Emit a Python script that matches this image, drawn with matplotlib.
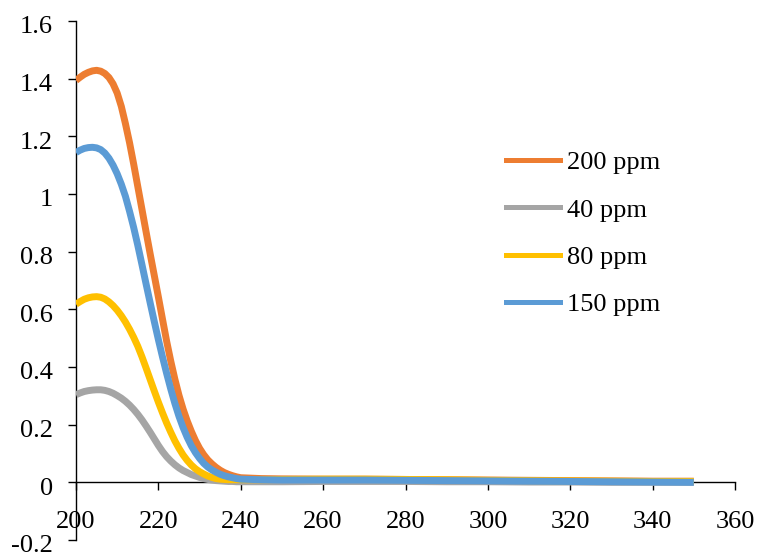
import matplotlib
matplotlib.use("Agg")
import matplotlib.pyplot as plt
from matplotlib.lines import Line2D
from matplotlib.transforms import ScaledTranslation

# Wavelength (nm)
wavelength = [200, 201, 202, 203, 204, 205, 206, 207, 208, 209,
              210, 211, 212, 213, 214, 215, 216, 217, 218, 219,
              220, 221, 222, 223, 224, 225, 226, 227, 228, 229,
              230, 231, 232, 233, 234, 235, 236, 237, 238, 239,
              240, 245, 250, 260, 270, 280, 290, 300, 310, 320,
              330, 340, 350]

abs_200ppm = [1.394, 1.405, 1.415, 1.422, 1.427, 1.429, 1.426, 1.418, 1.404, 1.382,
              1.350, 1.304, 1.244, 1.178, 1.104, 1.026, 0.948, 0.870, 0.793, 0.718,
              0.643, 0.566, 0.490, 0.421, 0.358, 0.302, 0.254, 0.213, 0.177, 0.145,
              0.118, 0.096, 0.078, 0.064, 0.052, 0.042, 0.034, 0.028, 0.023, 0.019,
              0.016, 0.013, 0.012, 0.011, 0.011, 0.010, 0.009, 0.008, 0.007, 0.006,
              0.005, 0.004, 0.004]

abs_40ppm = [0.304, 0.310, 0.315, 0.318, 0.320, 0.321, 0.321, 0.319, 0.315, 0.309,
             0.301, 0.292, 0.281, 0.268, 0.253, 0.236, 0.217, 0.196, 0.174, 0.151,
             0.128, 0.107, 0.089, 0.074, 0.061, 0.050, 0.041, 0.034, 0.027, 0.022,
             0.017, 0.013, 0.010, 0.008, 0.006, 0.005, 0.004, 0.003, 0.003, 0.002,
             0.002, 0.002, 0.002, 0.003, 0.003, 0.003, 0.002, 0.002, 0.001, 0.001,
             0.000, 0.000, 0.000]

abs_80ppm = [0.618, 0.627, 0.635, 0.640, 0.643, 0.644, 0.642, 0.636, 0.626, 0.613,
             0.597, 0.578, 0.556, 0.531, 0.503, 0.472, 0.436, 0.397, 0.357, 0.317,
             0.278, 0.241, 0.206, 0.174, 0.144, 0.118, 0.095, 0.076, 0.060, 0.047,
             0.037, 0.029, 0.022, 0.017, 0.013, 0.011, 0.010, 0.009, 0.009, 0.009,
             0.009, 0.009, 0.010, 0.011, 0.011, 0.010, 0.009, 0.007, 0.006, 0.005,
             0.004, 0.003, 0.003]

abs_150ppm = [1.144, 1.152, 1.158, 1.161, 1.162, 1.160, 1.154, 1.142, 1.124, 1.100,
              1.070, 1.034, 0.992, 0.940, 0.884, 0.822, 0.756, 0.689, 0.623, 0.558,
              0.495, 0.435, 0.378, 0.324, 0.274, 0.229, 0.190, 0.156, 0.127, 0.103,
              0.083, 0.066, 0.053, 0.043, 0.035, 0.028, 0.023, 0.019, 0.016, 0.013,
              0.011, 0.009, 0.008, 0.008, 0.008, 0.007, 0.006, 0.005, 0.004, 0.003,
              0.002, 0.001, 0.000]

series_labels = ["200 ppm", "40 ppm", "80 ppm", "150 ppm"]
series_values = [abs_200ppm, abs_40ppm, abs_80ppm, abs_150ppm]
series_colors = ["#ED7D31", "#A5A5A5", "#FFC000", "#5B9BD5"]

x_ticks = [200, 220, 240, 260, 280, 300, 320, 340, 360]
y_ticks = [-0.2, 0, 0.2, 0.4, 0.6, 0.8, 1.0, 1.2, 1.4, 1.6]
y_tick_labels = ["-0.2", "0", "0.2", "0.4", "0.6", "0.8", "1", "1.2", "1.4", "1.6"]

plt.rcParams['font.family'] = ['Liberation Serif', 'DejaVu Serif']

fig = plt.figure(figsize=(7.62, 5.56), dpi=100)
ax = fig.add_axes([76 / 762, 1 - 540 / 556, (735 - 76) / 762, (540 - 21) / 556])

for vals, col in zip(series_values, series_colors):
    ax.plot(wavelength, vals, color=col, lw=5.0, solid_capstyle='butt',
            solid_joinstyle='round', zorder=3)

ax.set_xlim(200, 360)
ax.set_ylim(-0.2, 1.6)
ax.set_xticks(x_ticks)
ax.set_yticks(y_ticks)
ax.set_yticklabels(y_tick_labels)

ax.spines['top'].set_visible(False)
ax.spines['right'].set_visible(False)
ax.spines['bottom'].set_position(('data', 0))
for s in ('left', 'bottom'):
    ax.spines[s].set_linewidth(1.0)
    ax.spines[s].set_color('black')

ax.tick_params(axis='both', direction='out', length=5.5, width=1.0, colors='black',
               labelsize=19)
ax.tick_params(axis='x', pad=15)
ax.tick_params(axis='y', pad=11.3)

offset = ScaledTranslation(0, -4 / 100, fig.dpi_scale_trans)
for lab in ax.get_yticklabels():
    lab.set_transform(lab.get_transform() + offset)

handles = [Line2D([0], [0], color=c, lw=3.6) for c in series_colors]
leg = ax.legend(handles, series_labels, loc='upper left',
                bbox_to_anchor=(506 / 762, 1 - 151 / 556), bbox_transform=fig.transFigure,
                frameon=False, fontsize=19, handlelength=2.05, handletextpad=0.25,
                labelspacing=0.9, borderpad=0, borderaxespad=0)

fig.savefig("out.png", dpi=100)
